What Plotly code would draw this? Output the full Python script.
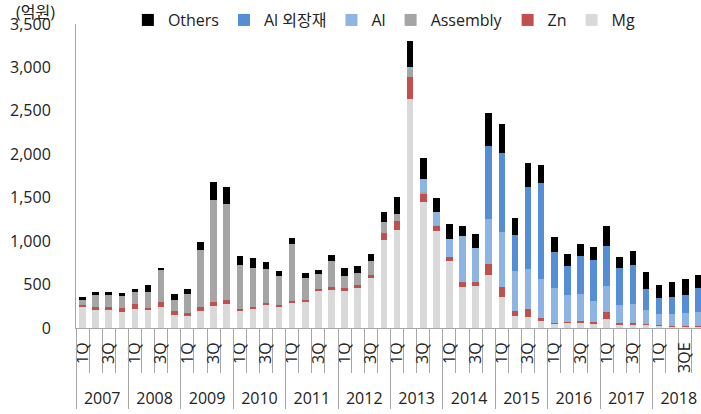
import plotly.graph_objects as go

YEARS = ["2007", "2008", "2009", "2010", "2011", "2012",
         "2013", "2014", "2015", "2016", "2017", "2018"]
QUARTER_TICKS = ["1Q", "", "3Q", ""]
LAST_YEAR_TICKS = ["1Q", "", "3QE", ""]

# 억원, 2007 1Q ~ 2018 4QE
MG = [242, 212, 212, 185, 223, 204, 242, 154, 142, 200, 250, 277,
      192, 219, 266, 246, 293, 308, 435, 435, 431, 466, 574, 1009,
      1132, 2633, 1451, 1120, 770, 470, 485, 612, 362, 142, 127, 92,
      50, 58, 62, 46, 104, 38, 42, 35, 23, 15, 19, 19]
ZN = [27, 31, 31, 42, 58, 27, 58, 42, 31, 46, 50, 50,
      31, 19, 19, 15, 15, 19, 19, 35, 27, 27, 35, 81,
      104, 258, 100, 58, 50, 58, 50, 127, 112, 58, 89, 19,
      8, 12, 15, 23, 81, 23, 19, 8, 8, 8, 8, 4]
ASSEMBLY = [58, 142, 139, 139, 135, 181, 373, 131, 216, 647, 1178, 1105,
            508, 454, 397, 335, 662, 243, 173, 300, 146, 146, 162, 131,
            81, 81, 12, 12, 0, 0, 0, 0, 0, 0, 0, 0,
            0, 0, 0, 0, 0, 0, 0, 0, 0, 0, 0, 0]
AL = [0, 0, 0, 0, 0, 0, 0, 0, 0, 0, 0, 0,
      0, 0, 0, 0, 0, 0, 0, 0, 0, 0, 0, 0,
      0, 35, 158, 150, 208, 527, 381, 520, 628, 462, 462, 454,
      400, 312, 316, 239, 300, 204, 216, 166, 131, 139, 142, 162]
AL_EXT = [0, 0, 0, 0, 0, 0, 0, 0, 0, 0, 0, 0,
          0, 0, 0, 0, 0, 0, 0, 0, 0, 0, 0, 0,
          0, 0, 0, 0, 0, 0, 0, 835, 909, 412, 951, 1109,
          412, 331, 439, 470, 462, 427, 443, 239, 181, 200, 212, 277]
OTHERS = [27, 35, 27, 42, 38, 81, 19, 62, 65, 96, 200, 193,
          96, 116, 73, 65, 69, 58, 42, 73, 85, 73, 85, 119,
          193, 300, 239, 154, 169, 116, 166, 377, 343, 193, 273, 208,
          177, 139, 135, 154, 231, 131, 162, 193, 150, 169, 181, 150]

FONT = "Open Sans, Noto Sans CJK KR, sans-serif"
AXIS_GRAY = "#A6A6A6"

n = len(MG)
x = list(range(n))
tick_text = []
for i, yr in enumerate(YEARS):
    tick_text += LAST_YEAR_TICKS if i == len(YEARS) - 1 else QUARTER_TICKS

series = [
    ("Mg", MG, "#D9D9D9"),
    ("Zn", ZN, "#C0504D"),
    ("Assembly", ASSEMBLY, "#A5A5A5"),
    ("Al", AL, "#8DB4E2"),
    ("Al 외장재", AL_EXT, "#558ED5"),
    ("Others", OTHERS, "#000000"),
]

fig = go.Figure()
for name, vals, col in series:
    fig.add_trace(go.Bar(x=x, y=vals, name=name, marker_color=col, marker_line_width=0))
# empty trace so the year axis gets drawn
fig.add_trace(go.Scatter(x=[], y=[], xaxis="x2", showlegend=False, hoverinfo="skip"))

xr = [-0.5, 47.2]
fig.update_layout(
    width=701, height=414,
    barmode="stack", bargap=0.5,
    margin=dict(l=76, r=0, t=24, b=86, autoexpand=False),
    paper_bgcolor="white", plot_bgcolor="white",
    font=dict(family=FONT, color="#222222"),
    legend=dict(orientation="h", traceorder="reversed", x=0.083, xanchor="left",
                y=1.013, yanchor="middle", font=dict(size=16), bgcolor="rgba(0,0,0,0)"),
    xaxis=dict(range=xr, tickvals=x, ticktext=tick_text, tickangle=-90, ticks="",
               showline=True, linecolor=AXIS_GRAY, linewidth=1, showgrid=False, zeroline=False,
               tickfont=dict(size=16), ticklabelstandoff=7, ticklabeloverflow="allow",
               minor=dict(tickvals=[i - 0.5 for i in range(n + 1)], ticks="outside",
                          ticklen=44, tickcolor=AXIS_GRAY, tickwidth=1)),
    xaxis2=dict(range=xr, overlaying="x", anchor="y", side="bottom",
                tickvals=[4 * i + 1.5 for i in range(len(YEARS))], ticktext=YEARS,
                ticks="", showline=False, showgrid=False, zeroline=False,
                tickfont=dict(size=16), ticklabelstandoff=59, ticklabeloverflow="allow",
                minor=dict(tickvals=[4 * i - 0.5 for i in range(len(YEARS) + 1)], ticks="outside",
                           ticklen=80, tickcolor=AXIS_GRAY, tickwidth=1)),
    yaxis=dict(range=[0, 3500], dtick=500, tickformat=",", showgrid=False, zeroline=False,
               showline=True, linecolor=AXIS_GRAY, linewidth=1, ticks="",
               tickfont=dict(size=16), ticklabelstandoff=21),
    annotations=[dict(text="(억원)", xref="paper", yref="paper", x=-0.1, y=1.039,
                      xanchor="left", yanchor="middle", showarrow=False,
                      font=dict(size=16))],
)

# drop the default body margin so the 701x414 figure fills the window exactly
fig.write_html("out.html", config={"displayModeBar": False},
               post_script="document.body.style.margin='0';document.body.style.overflow='hidden';")
